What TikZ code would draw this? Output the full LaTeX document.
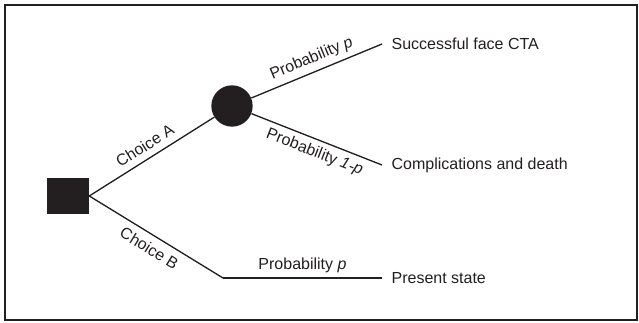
\documentclass[tikz,border=0pt]{standalone}
\usepackage{fontspec}
\setmainfont{Liberation Sans}
\definecolor{treeink}{HTML}{231F20}
\tikzset{
	decision/.style={fill=treeink, draw=none, minimum width=31.5pt, minimum height=27pt, inner sep=0pt},
	chance/.style={circle, fill=treeink, draw=none, minimum size=31pt, inner sep=0pt},
	outcome/.style={anchor=west, inner xsep=7pt, inner ysep=0pt},
	branch/.style={draw=treeink, line width=1pt},
	lbl/.style={font=\fontsize{12}{14}\selectfont, text=treeink}
}
\begin{document}
\begin{tikzpicture}[x=0.75pt, y=-0.75pt]
			\useasboundingbox (0,0) rectangle (639,323);
			\draw[treeink, line width=0.9pt] (5,5) rectangle (637,320);
			\node[decision] (choice) at (68,196) {};
			\node[chance] (event) at (232,106) {};
			\coordinate (bend) at (223,278);
			\node[outcome, lbl] (success) at (382,44) {Successful face CTA};
			\node[outcome, lbl] (death) at (382,165) {Complications and death};
			\node[outcome, lbl] (present) at (382,278) {Present state};
			\draw[branch] (choice.east) -- node[lbl, sloped, above=1.5pt, pos=0.5] {Choice A} (event);
			\draw[branch] (event) -- node[lbl, sloped, above=0.5pt, pos=0.5] {Probability \textit{p}} (success.west);
			\draw[branch] (event) -- node[lbl, sloped, below=0.5pt, pos=0.52] {Probability \textit{1-p}} (death.west);
			\draw[branch] (choice.east) -- node[lbl, sloped, below=1.5pt, pos=0.5] {Choice B} (bend);
			\draw[branch] (bend) -- node[lbl, above, pos=0.5] {Probability \textit{p}} (present.west);
		\end{tikzpicture}
\end{document}
